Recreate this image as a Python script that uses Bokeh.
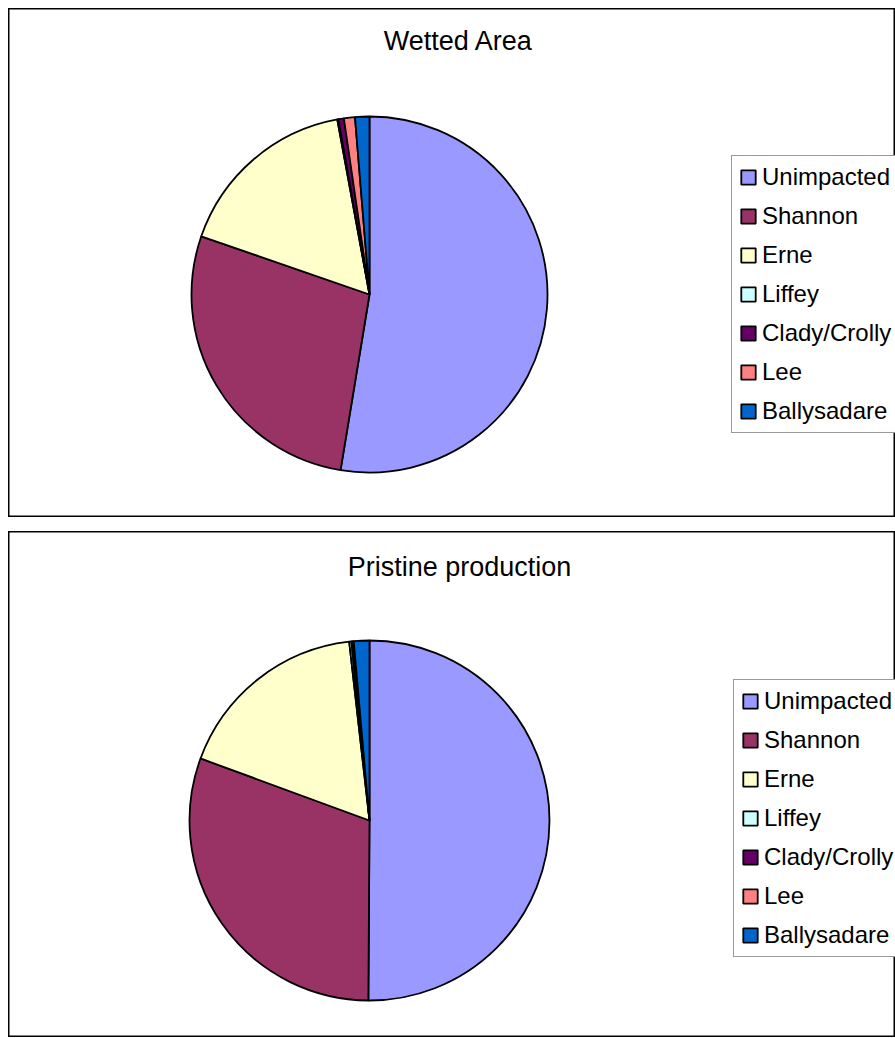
import numpy as np
from bokeh.plotting import figure
from bokeh.models import Range1d, Legend, LegendItem, ColumnDataSource, Label
from bokeh.layouts import column
from bokeh.embed import file_html
from bokeh.resources import INLINE

categories = ["Unimpacted", "Shannon", "Erne", "Liffey", "Clady/Crolly", "Lee", "Ballysadare"]
colors = ["#9999FF", "#993366", "#FFFFCC", "#CCFFFF", "#660066", "#FF8080", "#0066CC"]
wetted_area = [52.6, 27.7, 16.8, 0.1, 0.5, 1.0, 1.3]
pristine_production = [50.1, 30.5, 17.6, 0.2, 0.15, 0.05, 1.4]

FONT = "Liberation Sans"


def make_pie(title, values, height, cy, radius, tx, ty, legend_xy):
    W = 887
    cx = 361
    p = figure(width=W, height=height, output_backend="svg", toolbar_location=None,
               x_range=Range1d(-cx, W - cx), y_range=Range1d(-(height - cy), cy),
               min_border=0)
    p.axis.visible = False
    p.grid.visible = False
    p.outline_line_color = "black"
    p.outline_line_width = 2
    p.background_fill_color = "white"

    vals = np.array(values, dtype=float)
    frac = vals / vals.sum()
    cum = np.concatenate([[0.0], np.cumsum(frac)])
    start = np.pi / 2 - 2 * np.pi * cum[:-1]
    end = np.pi / 2 - 2 * np.pi * cum[1:]

    items = []
    for i, cat in enumerate(categories):
        src = ColumnDataSource(dict(x=[0], y=[0], s=[start[i]], e=[end[i]]))
        r = p.wedge(x="x", y="y", radius=radius, start_angle="s", end_angle="e",
                    direction="clock", source=src, fill_color=colors[i],
                    line_color="black", line_width=1.8)
        items.append(LegendItem(label=cat, renderers=[r]))

    leg = Legend(items=items, location=legend_xy)
    leg.glyph_width = 18
    leg.glyph_height = 18
    leg.label_text_font = FONT
    leg.label_text_font_size = "24px"
    leg.label_text_color = "black"
    leg.label_standoff = 5
    leg.label_height = 24
    leg.spacing = 11
    leg.padding = 7
    leg.margin = 0
    leg.border_line_color = "#333333"
    leg.border_line_width = 1
    leg.background_fill_alpha = 1
    p.add_layout(leg, "center")

    p.add_layout(Label(x=tx, y=ty, text=title, text_font=FONT, text_font_size="27px",
                       text_align="center", text_baseline="middle", text_color="black"))
    return p


p1 = make_pie("Wetted Area", wetted_area, 509, 286, 178, 89, 254, (723, 84))
p2 = make_pie("Pristine production", pristine_production, 506, 289, 180, 90, 254, (725, 80))

layout = column(p1, p2, spacing=14, margin=(8, 0, 0, 8))
open("out.html", "w").write(file_html(layout, INLINE))
